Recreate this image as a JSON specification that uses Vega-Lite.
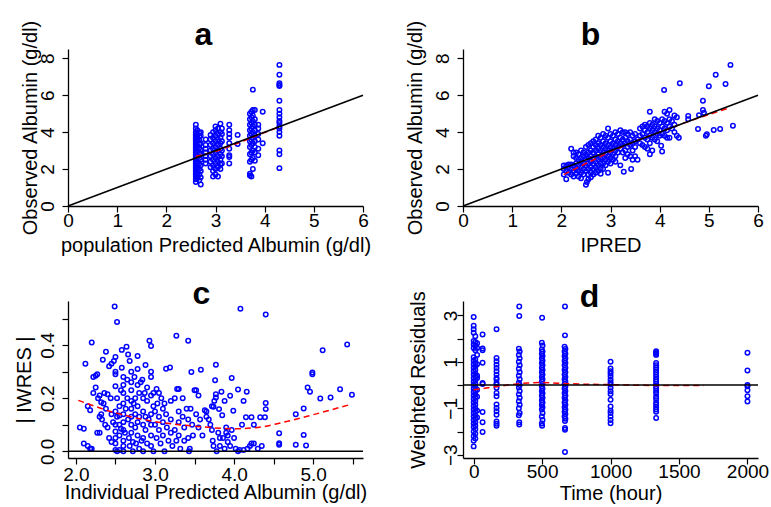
{
"$schema": "https://vega.github.io/schema/vega-lite/v6.json",
"padding": {"left": 14, "top": 18, "right": 5, "bottom": 2},
"background": "white",
"config": {
 "view": {"stroke": null},
 "font": "Liberation Sans",
 "axis": {"grid": false, "domainColor": "#000", "domainWidth": 1.3, "tickColor": "#000", "tickWidth": 1.2, "tickSize": 6, "labelFont": "Liberation Sans", "labelFontSize": 19, "labelColor": "#000", "titleFont": "Liberation Sans", "titleFontSize": 20, "titleFontWeight": "normal", "titleColor": "#000", "labelFlush": false, "labelOverlap": false, "labelBound": false},
 "axisX": {"labelBaseline": "alphabetic", "titleBaseline": "alphabetic", "labelOverlap": false},
 "axisY": {"labelAngle": 270, "labelAlign": "center", "labelBaseline": "alphabetic", "titleBaseline": "alphabetic", "titleAngle": 270, "labelOverlap": false},
 "title": {"font": "Liberation Sans", "fontSize": 32, "fontWeight": "bold", "color": "#000", "baseline": "alphabetic", "frame": "group", "anchor": "middle"}
},
"datasets": {
 "a": [
  {"x":2.6,"y":1.3},{"x":2.6,"y":1.45},{"x":2.6,"y":1.6},{"x":2.6,"y":1.7},{"x":2.6,"y":1.8},{"x":2.6,"y":1.9},{"x":2.6,"y":2.0},{"x":2.6,"y":2.1},{"x":2.6,"y":2.2},{"x":2.6,"y":2.3},{"x":2.6,"y":2.4},{"x":2.6,"y":2.5},{"x":2.6,"y":2.6},{"x":2.6,"y":2.7},{"x":2.6,"y":2.8},{"x":2.6,"y":2.9},{"x":2.6,"y":3.0},{"x":2.6,"y":3.1},{"x":2.6,"y":3.2},{"x":2.6,"y":3.3},{"x":2.6,"y":3.4},{"x":2.6,"y":3.5},{"x":2.6,"y":3.6},{"x":2.6,"y":3.7},{"x":2.6,"y":3.8},{"x":2.6,"y":3.9},{"x":2.6,"y":4.0},{"x":2.6,"y":4.2},{"x":2.6,"y":4.4},
  {"x":2.63,"y":1.5},{"x":2.63,"y":1.75},{"x":2.63,"y":2.05},{"x":2.63,"y":2.35},{"x":2.63,"y":2.65},{"x":2.63,"y":2.95},{"x":2.63,"y":3.25},{"x":2.63,"y":3.55},{"x":2.63,"y":3.85},{"x":2.63,"y":4.1},
  {"x":2.67,"y":1.4},{"x":2.67,"y":1.7},{"x":2.67,"y":2.0},{"x":2.67,"y":2.3},{"x":2.67,"y":2.6},{"x":2.67,"y":2.9},{"x":2.67,"y":3.15},{"x":2.67,"y":3.35},{"x":2.67,"y":3.55},{"x":2.67,"y":3.75},{"x":2.67,"y":3.95},
  {"x":2.7,"y":1.17},{"x":2.7,"y":1.55},{"x":2.7,"y":1.9},{"x":2.7,"y":2.2},{"x":2.7,"y":2.5},{"x":2.7,"y":2.8},{"x":2.7,"y":3.05},{"x":2.7,"y":3.4},{"x":2.7,"y":3.8},{"x":2.7,"y":4.0},
  {"x":2.8,"y":2.3},{"x":2.8,"y":2.5},{"x":2.8,"y":2.7},{"x":2.8,"y":2.9},{"x":2.8,"y":3.1},{"x":2.8,"y":3.3},{"x":2.8,"y":3.6},
  {"x":2.9,"y":2.1},{"x":2.9,"y":2.4},{"x":2.9,"y":2.7},{"x":2.9,"y":3.0},{"x":2.9,"y":3.3},{"x":2.9,"y":3.6},{"x":2.9,"y":3.85},
  {"x":2.95,"y":1.6},{"x":2.95,"y":1.9},{"x":2.95,"y":2.2},{"x":2.95,"y":2.5},{"x":2.95,"y":2.8},{"x":2.95,"y":3.1},{"x":2.95,"y":3.4},{"x":2.95,"y":3.7},{"x":2.95,"y":4.0},
  {"x":3.0,"y":1.7},{"x":3.0,"y":2.0},{"x":3.0,"y":2.3},{"x":3.0,"y":2.6},{"x":3.0,"y":2.9},{"x":3.0,"y":3.2},{"x":3.0,"y":3.5},{"x":3.0,"y":3.8},{"x":3.0,"y":4.1},{"x":3.0,"y":4.3},
  {"x":3.05,"y":1.6},{"x":3.05,"y":2.1},{"x":3.05,"y":2.4},{"x":3.05,"y":2.7},{"x":3.05,"y":3.0},{"x":3.05,"y":3.3},{"x":3.05,"y":3.6},{"x":3.05,"y":3.9},{"x":3.05,"y":4.2},
  {"x":3.1,"y":2.0},{"x":3.1,"y":2.25},{"x":3.1,"y":2.5},{"x":3.1,"y":2.8},{"x":3.1,"y":3.1},{"x":3.1,"y":3.4},{"x":3.1,"y":3.7},{"x":3.1,"y":4.0},{"x":3.1,"y":4.45},
  {"x":3.13,"y":2.3},{"x":3.13,"y":2.7},{"x":3.13,"y":3.0},{"x":3.13,"y":3.5},{"x":3.13,"y":3.9},{"x":3.13,"y":4.2},
  {"x":3.28,"y":2.3},{"x":3.28,"y":2.65},{"x":3.28,"y":2.75},{"x":3.28,"y":3.1},{"x":3.28,"y":3.4},{"x":3.28,"y":3.7},{"x":3.28,"y":3.9},{"x":3.28,"y":4.1},{"x":3.28,"y":4.4},
  {"x":3.45,"y":3.35},{"x":3.45,"y":3.85},
  {"x":3.7,"y":1.65},{"x":3.7,"y":1.75},{"x":3.7,"y":2.4},{"x":3.7,"y":2.8},{"x":3.7,"y":3.2},{"x":3.7,"y":3.5},{"x":3.7,"y":3.8},{"x":3.7,"y":4.1},{"x":3.7,"y":4.4},{"x":3.7,"y":4.7},{"x":3.7,"y":5.0},
  {"x":3.73,"y":1.6},{"x":3.73,"y":2.5},{"x":3.73,"y":2.9},{"x":3.73,"y":3.3},{"x":3.73,"y":3.6},{"x":3.73,"y":3.9},{"x":3.73,"y":4.2},{"x":3.73,"y":4.5},{"x":3.73,"y":4.8},{"x":3.73,"y":5.1},
  {"x":3.76,"y":6.3},{"x":3.76,"y":2.0},{"x":3.76,"y":2.6},{"x":3.76,"y":3.0},{"x":3.76,"y":3.4},{"x":3.76,"y":3.7},{"x":3.76,"y":4.0},{"x":3.76,"y":4.3},{"x":3.76,"y":4.6},{"x":3.76,"y":4.9},{"x":3.76,"y":5.2},
  {"x":3.8,"y":2.45},{"x":3.8,"y":2.9},{"x":3.8,"y":3.2},{"x":3.8,"y":3.5},{"x":3.8,"y":3.8},{"x":3.8,"y":4.1},{"x":3.8,"y":4.4},{"x":3.8,"y":4.7},{"x":3.8,"y":5.2},
  {"x":3.87,"y":2.75},{"x":3.87,"y":3.1},{"x":3.87,"y":3.6},{"x":3.87,"y":3.9},{"x":3.87,"y":4.2},{"x":3.87,"y":4.4},
  {"x":3.96,"y":5.1},{"x":3.96,"y":3.4},
  {"x":4.3,"y":7.64},{"x":4.3,"y":7.11},{"x":4.3,"y":6.65},{"x":4.3,"y":6.55},{"x":4.3,"y":6.5},{"x":4.3,"y":5.7},{"x":4.3,"y":5.2},{"x":4.3,"y":5.0},{"x":4.3,"y":4.8},{"x":4.3,"y":4.6},{"x":4.3,"y":4.5},{"x":4.3,"y":4.3},{"x":4.3,"y":4.2},{"x":4.3,"y":4.0},{"x":4.3,"y":3.8},{"x":4.3,"y":3.0},{"x":4.3,"y":2.8},{"x":4.3,"y":2.05}
 ],
 "la": [{"x":2.6,"y":2.68},{"x":3.0,"y":2.95},{"x":3.5,"y":3.45},{"x":4.0,"y":3.98},{"x":4.3,"y":4.28}],
 "ia": [{"x":0,"y":0},{"x":6,"y":6}],
 "b": [
  {"x":2.05,"y":1.7},{"x":2.05,"y":2.0},{"x":2.05,"y":2.2},
  {"x":2.1,"y":1.45},{"x":2.1,"y":1.9},{"x":2.1,"y":2.2},
  {"x":2.15,"y":2.1},{"x":2.15,"y":2.25},{"x":2.15,"y":1.8},
  {"x":2.2,"y":3.1},{"x":2.2,"y":2.0},{"x":2.2,"y":2.25},{"x":2.2,"y":1.7},
  {"x":2.25,"y":2.9},{"x":2.25,"y":2.7},{"x":2.25,"y":2.2},{"x":2.25,"y":1.9},{"x":2.25,"y":1.6},
  {"x":2.3,"y":2.3},{"x":2.3,"y":2.6},{"x":2.3,"y":2.0},{"x":2.3,"y":1.75},{"x":2.3,"y":2.9},
  {"x":2.35,"y":2.5},{"x":2.35,"y":2.2},{"x":2.35,"y":1.9},{"x":2.35,"y":1.6},{"x":2.35,"y":2.8},
  {"x":2.4,"y":2.6},{"x":2.4,"y":2.4},{"x":2.4,"y":2.1},{"x":2.4,"y":1.8},{"x":2.4,"y":1.5},{"x":2.4,"y":3.0},
  {"x":2.45,"y":2.7},{"x":2.45,"y":2.3},{"x":2.45,"y":2.0},{"x":2.45,"y":1.7},{"x":2.45,"y":2.9},
  {"x":2.5,"y":3.2},{"x":2.5,"y":2.8},{"x":2.5,"y":2.5},{"x":2.5,"y":2.2},{"x":2.5,"y":1.9},{"x":2.5,"y":1.15},{"x":2.52,"y":1.3},
  {"x":2.55,"y":3.3},{"x":2.55,"y":2.9},{"x":2.55,"y":2.6},{"x":2.55,"y":2.3},{"x":2.55,"y":2.0},{"x":2.55,"y":1.7},{"x":2.55,"y":1.45},
  {"x":2.6,"y":3.4},{"x":2.6,"y":3.0},{"x":2.6,"y":2.7},{"x":2.6,"y":2.4},{"x":2.6,"y":2.1},{"x":2.6,"y":1.8},{"x":2.6,"y":1.55},
  {"x":2.65,"y":3.2},{"x":2.65,"y":2.9},{"x":2.65,"y":2.6},{"x":2.65,"y":2.3},{"x":2.65,"y":2.0},{"x":2.65,"y":1.7},{"x":2.65,"y":3.5},
  {"x":2.7,"y":3.6},{"x":2.7,"y":3.3},{"x":2.7,"y":3.0},{"x":2.7,"y":2.7},{"x":2.7,"y":2.4},{"x":2.7,"y":2.1},{"x":2.7,"y":1.8},
  {"x":2.75,"y":3.8},{"x":2.75,"y":3.4},{"x":2.75,"y":3.1},{"x":2.75,"y":2.8},{"x":2.75,"y":2.5},{"x":2.75,"y":2.2},{"x":2.75,"y":1.9},
  {"x":2.8,"y":3.7},{"x":2.8,"y":3.3},{"x":2.8,"y":3.0},{"x":2.8,"y":2.6},{"x":2.8,"y":2.3},{"x":2.8,"y":2.0},{"x":2.8,"y":1.75},
  {"x":2.85,"y":3.9},{"x":2.85,"y":3.5},{"x":2.85,"y":3.2},{"x":2.85,"y":2.9},{"x":2.85,"y":2.6},{"x":2.85,"y":2.3},{"x":2.85,"y":2.0},
  {"x":2.9,"y":3.8},{"x":2.9,"y":3.4},{"x":2.9,"y":3.1},{"x":2.9,"y":2.8},{"x":2.9,"y":2.5},{"x":2.9,"y":2.2},
  {"x":2.95,"y":4.2},{"x":2.95,"y":3.7},{"x":2.95,"y":3.3},{"x":2.95,"y":3.0},{"x":2.95,"y":2.7},{"x":2.95,"y":2.4},{"x":2.95,"y":1.8},
  {"x":3.0,"y":3.9},{"x":3.0,"y":3.5},{"x":3.0,"y":3.2},{"x":3.0,"y":2.9},{"x":3.0,"y":2.6},{"x":3.0,"y":2.3},
  {"x":3.05,"y":3.8},{"x":3.05,"y":3.4},{"x":3.05,"y":3.1},{"x":3.05,"y":2.8},{"x":3.05,"y":2.5},
  {"x":3.1,"y":4.0},{"x":3.1,"y":3.6},{"x":3.1,"y":3.3},{"x":3.1,"y":3.0},{"x":3.1,"y":2.7},{"x":3.1,"y":2.4},
  {"x":3.15,"y":3.9},{"x":3.15,"y":3.5},{"x":3.15,"y":3.2},{"x":3.15,"y":2.9},
  {"x":3.2,"y":4.1},{"x":3.2,"y":3.7},{"x":3.2,"y":3.4},{"x":3.2,"y":3.1},{"x":3.2,"y":2.2},
  {"x":3.25,"y":4.0},{"x":3.25,"y":3.6},{"x":3.25,"y":3.3},{"x":3.25,"y":2.9},{"x":3.27,"y":1.85},
  {"x":3.3,"y":4.0},{"x":3.3,"y":3.7},{"x":3.3,"y":3.4},{"x":3.3,"y":3.0},{"x":3.3,"y":2.6},
  {"x":3.35,"y":3.9},{"x":3.35,"y":3.5},{"x":3.35,"y":3.2},{"x":3.35,"y":2.8},
  {"x":3.4,"y":4.0},{"x":3.4,"y":3.6},{"x":3.4,"y":3.3},{"x":3.4,"y":2.7},{"x":3.42,"y":2.0},
  {"x":3.45,"y":3.8},{"x":3.45,"y":3.4},{"x":3.45,"y":3.0},{"x":3.45,"y":2.5},
  {"x":3.5,"y":3.9},{"x":3.5,"y":3.5},{"x":3.5,"y":3.2},{"x":3.5,"y":2.7},
  {"x":3.55,"y":3.6},{"x":3.55,"y":2.5},
  {"x":3.6,"y":4.2},{"x":3.6,"y":3.8},{"x":3.6,"y":3.4},
  {"x":3.65,"y":4.3},{"x":3.65,"y":3.9},{"x":3.65,"y":3.3},
  {"x":3.7,"y":4.4},{"x":3.7,"y":4.1},{"x":3.7,"y":3.7},{"x":3.7,"y":3.2},
  {"x":3.75,"y":4.3},{"x":3.75,"y":4.0},{"x":3.75,"y":3.6},{"x":3.75,"y":3.1},
  {"x":3.8,"y":5.1},{"x":3.8,"y":4.5},{"x":3.8,"y":4.2},{"x":3.8,"y":3.8},{"x":3.8,"y":3.4},{"x":3.8,"y":2.8},
  {"x":3.85,"y":4.4},{"x":3.85,"y":4.1},{"x":3.85,"y":3.7},{"x":3.85,"y":3.0},
  {"x":3.9,"y":4.7},{"x":3.9,"y":4.3},{"x":3.9,"y":4.0},{"x":3.9,"y":3.6},
  {"x":3.95,"y":4.6},{"x":3.95,"y":4.2},{"x":3.95,"y":3.9},{"x":3.95,"y":3.5},
  {"x":4.0,"y":4.5},{"x":4.0,"y":4.1},{"x":4.0,"y":3.8},
  {"x":4.05,"y":4.7},{"x":4.05,"y":4.3},{"x":4.05,"y":3.9},{"x":4.03,"y":3.26},{"x":4.05,"y":2.95},
  {"x":4.1,"y":5.1},{"x":4.1,"y":4.6},{"x":4.1,"y":4.2},{"x":4.1,"y":3.8},{"x":4.09,"y":6.28},
  {"x":4.15,"y":5.0},{"x":4.15,"y":4.5},{"x":4.15,"y":4.1},{"x":4.15,"y":3.7},
  {"x":4.2,"y":5.2},{"x":4.2,"y":4.7},{"x":4.2,"y":4.3},{"x":4.2,"y":3.7},
  {"x":4.25,"y":4.6},{"x":4.25,"y":4.2},
  {"x":4.3,"y":4.9},{"x":4.3,"y":4.4},{"x":4.3,"y":4.0},
  {"x":4.35,"y":4.8},{"x":4.35,"y":3.8},{"x":4.39,"y":3.7},{"x":4.41,"y":6.64},
  {"x":4.58,"y":4.88},{"x":4.58,"y":4.7},{"x":4.78,"y":4.17},{"x":4.8,"y":4.92},{"x":4.88,"y":5.7},{"x":4.88,"y":5.2},{"x":4.9,"y":5.05},
  {"x":4.94,"y":3.8},{"x":4.96,"y":3.88},{"x":5.0,"y":6.48},{"x":5.1,"y":4.11},{"x":5.14,"y":7.11},{"x":5.23,"y":4.17},{"x":5.34,"y":6.6},{"x":5.44,"y":7.64},{"x":5.49,"y":4.35}
 ],
 "lb": [{"x":2.05,"y":1.7},{"x":2.5,"y":2.3},{"x":3.0,"y":2.95},{"x":3.5,"y":3.5},{"x":4.0,"y":4.0},{"x":4.5,"y":4.5},{"x":5.0,"y":4.95},{"x":5.4,"y":5.3}],
 "c": [
  {"x":2.05,"y":0.09},{"x":2.1,"y":0.085},{"x":2.12,"y":0.33},{"x":2.1,"y":0.03},{"x":2.15,"y":0.02},{"x":2.18,"y":0.01},{"x":2.15,"y":0.17},{"x":2.18,"y":0.155},{"x":2.2,"y":0.41},{"x":2.22,"y":0.28},{"x":2.22,"y":0.22},{"x":2.2,"y":0.01},
  {"x":2.25,"y":0.285},{"x":2.27,"y":0.29},{"x":2.28,"y":0.2},{"x":2.3,"y":0.21},{"x":2.25,"y":0.24},{"x":2.3,"y":0.13},{"x":2.32,"y":0.14},{"x":2.27,"y":0.07},{"x":2.3,"y":0.07},{"x":2.32,"y":0.185},{"x":2.35,"y":0.18},{"x":2.34,"y":0.345},{"x":2.38,"y":0.375},{"x":2.36,"y":0.22},{"x":2.4,"y":0.215},{"x":2.4,"y":0.09},{"x":2.42,"y":0.05},{"x":2.42,"y":0.32},{"x":2.45,"y":0.33},{"x":2.44,"y":0.2},{"x":2.38,"y":0.16},{"x":2.45,"y":0.035},{"x":2.33,"y":0.12},{"x":2.37,"y":0.1},
  {"x":2.49,"y":0.545},{"x":2.52,"y":0.487},{"x":2.5,"y":0.355},{"x":2.48,"y":0.34},{"x":2.5,"y":0.3},{"x":2.5,"y":0.29},{"x":2.5,"y":0.245},{"x":2.52,"y":0.2},{"x":2.5,"y":0.15},{"x":2.52,"y":0.13},{"x":2.5,"y":0.1},{"x":2.5,"y":0.075},{"x":2.5,"y":0.05},{"x":2.5,"y":0.03},{"x":2.5,"y":0.005},{"x":2.52,"y":0.0},{"x":2.55,"y":0.005},{"x":2.55,"y":0.06},{"x":2.55,"y":0.1},{"x":2.55,"y":0.135},{"x":2.55,"y":0.17},{"x":2.57,"y":0.23},{"x":2.58,"y":0.382},{"x":2.58,"y":0.315},{"x":2.6,"y":0.28},{"x":2.6,"y":0.25},{"x":2.6,"y":0.22},{"x":2.6,"y":0.18},{"x":2.6,"y":0.14},{"x":2.6,"y":0.11},{"x":2.6,"y":0.08},{"x":2.6,"y":0.04},{"x":2.6,"y":0.02},{"x":2.6,"y":0.0},{"x":2.47,"y":0.11},{"x":2.45,"y":0.14},{"x":2.57,"y":0.085},
  {"x":2.64,"y":0.394},{"x":2.66,"y":0.365},{"x":2.68,"y":0.34},{"x":2.65,"y":0.27},{"x":2.65,"y":0.2},{"x":2.66,"y":0.12},{"x":2.67,"y":0.05},{"x":2.68,"y":0.02},{"x":2.7,"y":0.3},{"x":2.7,"y":0.26},{"x":2.7,"y":0.23},{"x":2.7,"y":0.19},{"x":2.7,"y":0.16},{"x":2.7,"y":0.13},{"x":2.7,"y":0.1},{"x":2.7,"y":0.07},{"x":2.72,"y":0.035},{"x":2.72,"y":0.0},{"x":2.74,"y":0.28},{"x":2.75,"y":0.2},{"x":2.75,"y":0.14},{"x":2.75,"y":0.09},{"x":2.76,"y":0.03},{"x":2.78,"y":0.359},{"x":2.78,"y":0.31},{"x":2.78,"y":0.25},{"x":2.78,"y":0.17},{"x":2.78,"y":0.11},{"x":2.78,"y":0.06},{"x":2.8,"y":0.01},{"x":2.8,"y":0.22},{"x":2.8,"y":0.13},{"x":2.63,"y":0.16},{"x":2.62,"y":0.07},{"x":2.73,"y":0.18},
  {"x":2.82,"y":0.26},{"x":2.84,"y":0.27},{"x":2.85,"y":0.2},{"x":2.85,"y":0.15},{"x":2.85,"y":0.1},{"x":2.85,"y":0.05},{"x":2.85,"y":0.0},{"x":2.88,"y":0.325},{"x":2.88,"y":0.13},{"x":2.88,"y":0.08},{"x":2.9,"y":0.24},{"x":2.9,"y":0.19},{"x":2.9,"y":0.03},{"x":2.93,"y":0.416},{"x":2.95,"y":0.397},{"x":2.95,"y":0.3},{"x":2.95,"y":0.28},{"x":2.95,"y":0.21},{"x":2.95,"y":0.14},{"x":2.95,"y":0.1},{"x":2.95,"y":0.06},{"x":2.95,"y":0.02},{"x":2.98,"y":0.22},{"x":2.98,"y":0.17},{"x":2.98,"y":0.0},{"x":2.92,"y":0.12},{"x":2.83,"y":0.04},{"x":2.87,"y":0.22},
  {"x":3.0,"y":0.15},{"x":3.0,"y":0.1},{"x":3.02,"y":0.05},{"x":3.02,"y":0.235},{"x":3.05,"y":0.22},{"x":3.05,"y":0.13},{"x":3.05,"y":0.08},{"x":3.07,"y":0.03},{"x":3.08,"y":0.2},{"x":3.1,"y":0.16},{"x":3.1,"y":0.11},{"x":3.1,"y":0.06},{"x":3.12,"y":0.0},{"x":3.14,"y":0.311},{"x":3.14,"y":0.14},{"x":3.15,"y":0.09},{"x":3.17,"y":0.04},{"x":3.19,"y":0.316},{"x":3.2,"y":0.19},{"x":3.2,"y":0.12},{"x":3.2,"y":0.07},{"x":3.22,"y":0.02},{"x":3.12,"y":0.18},{"x":3.03,"y":0.18},
  {"x":3.27,"y":0.435},{"x":3.25,"y":0.2},{"x":3.28,"y":0.235},{"x":3.3,"y":0.235},{"x":3.3,"y":0.15},{"x":3.3,"y":0.11},{"x":3.3,"y":0.06},{"x":3.32,"y":0.01},{"x":3.35,"y":0.2},{"x":3.35,"y":0.13},{"x":3.37,"y":0.09},{"x":3.37,"y":0.04},{"x":3.4,"y":0.16},{"x":3.42,"y":0.416},{"x":3.42,"y":0.12},{"x":3.42,"y":0.05},{"x":3.43,"y":0.0},{"x":3.44,"y":0.01},{"x":3.46,"y":0.299},{"x":3.45,"y":0.16},{"x":3.47,"y":0.1},{"x":3.48,"y":0.06},{"x":3.25,"y":0.08},{"x":3.27,"y":0.04},
  {"x":3.5,"y":0.23},{"x":3.52,"y":0.23},{"x":3.52,"y":0.14},{"x":3.55,"y":0.21},{"x":3.55,"y":0.09},{"x":3.58,"y":0.307},{"x":3.57,"y":0.12},{"x":3.6,"y":0.06},{"x":3.63,"y":0.155},{"x":3.65,"y":0.15},{"x":3.65,"y":0.13},{"x":3.68,"y":0.12},{"x":3.7,"y":0.1},{"x":3.72,"y":0.08},{"x":3.75,"y":0.19},{"x":3.72,"y":0.17},{"x":3.73,"y":0.04},{"x":3.74,"y":0.02},{"x":3.77,"y":0.326},{"x":3.76,"y":0.268},{"x":3.77,"y":0.215},{"x":3.77,"y":0.203},{"x":3.74,"y":0.168},{"x":3.81,"y":0.159},{"x":3.85,"y":0.136},{"x":3.8,"y":0.07},{"x":3.82,"y":0.05},{"x":3.82,"y":0.02},{"x":3.78,"y":0.0},
  {"x":3.84,"y":0.224},{"x":3.88,"y":0.19},{"x":3.95,"y":0.209},{"x":3.97,"y":0.276},{"x":3.99,"y":0.153},{"x":3.9,"y":0.09},{"x":3.9,"y":0.07},{"x":3.92,"y":0.06},{"x":3.92,"y":0.035},{"x":3.95,"y":0.02},{"x":3.88,"y":0.01},{"x":3.97,"y":0.08},{"x":4.0,"y":0.05},{"x":4.02,"y":0.01},{"x":4.05,"y":0.233},{"x":4.05,"y":0.0},{"x":4.07,"y":0.005},{"x":4.08,"y":0.537},{"x":4.1,"y":0.1},{"x":4.12,"y":0.19},{"x":4.12,"y":0.005},{"x":3.86,"y":0.05},
  {"x":4.15,"y":0.128},{"x":4.16,"y":0.224},{"x":4.17,"y":0.01},{"x":4.2,"y":0.02},{"x":4.22,"y":0.128},{"x":4.22,"y":0.03},{"x":4.25,"y":0.1},{"x":4.25,"y":0.03},{"x":4.3,"y":0.01},{"x":4.33,"y":0.128},{"x":4.35,"y":0.02},{"x":4.39,"y":0.128},{"x":4.4,"y":0.159},{"x":4.4,"y":0.182},{"x":4.4,"y":0.515},
  {"x":4.57,"y":0.068},{"x":4.57,"y":0.031},{"x":4.57,"y":0.025},{"x":4.78,"y":0.14},{"x":4.78,"y":0.025},{"x":4.88,"y":0.161},{"x":4.88,"y":0.062},{"x":4.91,"y":0.022},{"x":4.93,"y":0.24},{"x":4.96,"y":0.224},{"x":4.99,"y":0.297},{"x":4.99,"y":0.29},{"x":5.09,"y":0.199},{"x":5.12,"y":0.381},{"x":5.22,"y":0.203},{"x":5.34,"y":0.234},{"x":5.43,"y":0.402},{"x":5.49,"y":0.213}
 ],
 "lc": [{"x":2.03,"y":0.192},{"x":2.5,"y":0.145},{"x":3.0,"y":0.112},{"x":3.5,"y":0.095},{"x":4.0,"y":0.085},{"x":4.3,"y":0.09},{"x":4.6,"y":0.108},{"x":5.0,"y":0.138},{"x":5.49,"y":0.178}],
 "hc": [{"x":1.9,"y":0},{"x":5.63,"y":0}],
 "d": [
  {"x":0,"y":2.93},{"x":0,"y":2.55},{"x":0,"y":2.4},{"x":0,"y":2.25},{"x":0,"y":1.9},{"x":0,"y":1.75},{"x":0,"y":1.6},{"x":0,"y":1.2},{"x":0,"y":1.05},{"x":0,"y":0.9},{"x":0,"y":0.75},{"x":0,"y":0.6},{"x":0,"y":0.45},{"x":0,"y":0.3},{"x":0,"y":0.15},{"x":0,"y":0.0},{"x":0,"y":-0.15},{"x":0,"y":-0.3},{"x":0,"y":-0.45},{"x":0,"y":-0.6},{"x":0,"y":-0.75},{"x":0,"y":-0.9},{"x":0,"y":-1.05},{"x":0,"y":-1.2},{"x":0,"y":-1.35},{"x":0,"y":-1.5},{"x":0,"y":-1.65},{"x":0,"y":-1.8},{"x":0,"y":-2.0},{"x":0,"y":-2.2},{"x":0,"y":-2.4},{"x":0,"y":-2.64},
  {"x":12,"y":2.1},{"x":12,"y":1.85},{"x":12,"y":1.7},{"x":12,"y":1.5},{"x":12,"y":1.1},{"x":12,"y":0.95},{"x":12,"y":0.8},{"x":12,"y":0.65},{"x":12,"y":0.5},{"x":12,"y":0.35},{"x":12,"y":0.2},{"x":12,"y":0.05},{"x":12,"y":-0.1},{"x":12,"y":-0.25},{"x":12,"y":-0.4},{"x":12,"y":-0.55},{"x":12,"y":-0.7},{"x":12,"y":-0.85},{"x":12,"y":-1.0},{"x":12,"y":-1.15},{"x":12,"y":-1.3},{"x":12,"y":-1.45},{"x":12,"y":-1.6},{"x":12,"y":-1.75},{"x":12,"y":-1.9},{"x":12,"y":-2.1},{"x":12,"y":-2.3},
  {"x":25,"y":1.8},{"x":25,"y":1.6},{"x":25,"y":1.3},{"x":25,"y":0.9},{"x":25,"y":0.4},{"x":25,"y":0.3},{"x":25,"y":-0.2},{"x":25,"y":-0.5},{"x":25,"y":-1.1},{"x":25,"y":-1.4},
  {"x":65,"y":2.18},{"x":65,"y":1.57},{"x":65,"y":1.5},{"x":65,"y":0.96},{"x":65,"y":0.09},{"x":65,"y":0.05},{"x":65,"y":-1.16},{"x":65,"y":-1.6},{"x":65,"y":-2.02},
  {"x":167,"y":2.4},{"x":167,"y":1.17},{"x":167,"y":1.03},{"x":167,"y":0.88},{"x":167,"y":0.74},{"x":167,"y":0.6},{"x":167,"y":0.45},{"x":167,"y":0.3},{"x":167,"y":0.24},{"x":167,"y":0.1},{"x":167,"y":0.02},{"x":167,"y":-0.12},{"x":167,"y":-0.34},{"x":167,"y":-0.48},{"x":167,"y":-0.84},{"x":167,"y":-0.99},{"x":167,"y":-1.13},{"x":167,"y":-1.28},{"x":167,"y":-1.57},{"x":167,"y":-1.67},{"x":167,"y":-1.75},
  {"x":333,"y":3.38},{"x":333,"y":2.97},{"x":330,"y":1.56},{"x":336,"y":1.45},{"x":330,"y":1.3},{"x":336,"y":1.15},{"x":330,"y":1.0},{"x":336,"y":0.85},{"x":330,"y":0.7},{"x":336,"y":0.55},{"x":330,"y":0.4},{"x":336,"y":0.25},{"x":330,"y":0.1},{"x":336,"y":0.0},{"x":330,"y":-0.1},{"x":336,"y":-0.25},{"x":330,"y":-0.4},{"x":336,"y":-0.55},{"x":330,"y":-0.7},{"x":336,"y":-0.85},{"x":330,"y":-1.0},{"x":336,"y":-1.2},{"x":330,"y":-1.3},{"x":333,"y":-1.6},{"x":333,"y":-1.7},
  {"x":500,"y":2.9},{"x":498,"y":1.82},{"x":503,"y":1.7},{"x":498,"y":1.53},{"x":503,"y":1.45},{"x":498,"y":1.35},{"x":503,"y":1.25},{"x":498,"y":1.15},{"x":503,"y":1.05},{"x":498,"y":0.95},{"x":503,"y":0.85},{"x":498,"y":0.75},{"x":503,"y":0.65},{"x":498,"y":0.55},{"x":503,"y":0.45},{"x":498,"y":0.35},{"x":503,"y":0.25},{"x":498,"y":0.15},{"x":503,"y":0.05},{"x":498,"y":-0.05},{"x":503,"y":-0.15},{"x":498,"y":-0.25},{"x":503,"y":-0.35},{"x":498,"y":-0.45},{"x":503,"y":-0.55},{"x":498,"y":-0.65},{"x":503,"y":-0.75},{"x":498,"y":-0.85},{"x":503,"y":-0.95},{"x":498,"y":-1.05},{"x":503,"y":-1.2},{"x":498,"y":-1.35},{"x":503,"y":-1.5},{"x":498,"y":-1.65},{"x":500,"y":-1.75},
  {"x":667,"y":3.38},{"x":667,"y":2.14},{"x":664,"y":1.65},{"x":670,"y":1.55},{"x":664,"y":1.45},{"x":670,"y":1.35},{"x":664,"y":1.25},{"x":670,"y":1.15},{"x":664,"y":1.05},{"x":670,"y":0.95},{"x":664,"y":0.85},{"x":670,"y":0.75},{"x":664,"y":0.65},{"x":670,"y":0.55},{"x":664,"y":0.45},{"x":670,"y":0.35},{"x":664,"y":0.25},{"x":670,"y":0.15},{"x":664,"y":0.05},{"x":670,"y":-0.05},{"x":664,"y":-0.15},{"x":670,"y":-0.25},{"x":664,"y":-0.35},{"x":670,"y":-0.45},{"x":664,"y":-0.55},{"x":670,"y":-0.65},{"x":664,"y":-0.75},{"x":670,"y":-0.85},{"x":664,"y":-0.95},{"x":670,"y":-1.05},{"x":664,"y":-1.15},{"x":670,"y":-1.25},{"x":664,"y":-1.35},{"x":670,"y":-1.45},{"x":667,"y":-1.55},{"x":667,"y":-1.85},{"x":667,"y":-1.92},{"x":667,"y":-2.88},
  {"x":1000,"y":1.0},{"x":1000,"y":0.71},{"x":1000,"y":0.6},{"x":1000,"y":0.5},{"x":1000,"y":0.38},{"x":1000,"y":0.24},{"x":1000,"y":0.12},{"x":1000,"y":0.02},{"x":1000,"y":-0.12},{"x":1000,"y":-0.27},{"x":1000,"y":-0.38},{"x":1000,"y":-0.63},{"x":1000,"y":-0.92},{"x":1000,"y":-1.1},{"x":1000,"y":-1.2},{"x":1000,"y":-1.35},{"x":1000,"y":-1.5},{"x":1000,"y":-1.64},
  {"x":1333,"y":1.46},{"x":1333,"y":1.4},{"x":1333,"y":1.35},{"x":1333,"y":1.3},{"x":1333,"y":0.95},{"x":1333,"y":0.85},{"x":1333,"y":0.75},{"x":1333,"y":0.65},{"x":1333,"y":0.55},{"x":1333,"y":0.45},{"x":1333,"y":0.35},{"x":1333,"y":0.25},{"x":1333,"y":0.15},{"x":1333,"y":0.05},{"x":1333,"y":-0.05},{"x":1333,"y":-0.15},{"x":1333,"y":-0.25},{"x":1333,"y":-0.35},{"x":1333,"y":-0.5},{"x":1333,"y":-0.6},{"x":1333,"y":-0.75},{"x":1333,"y":-0.85},{"x":1333,"y":-0.95},{"x":1333,"y":-1.05},{"x":1333,"y":-1.15},{"x":1333,"y":-1.42},
  {"x":2000,"y":1.39},{"x":2000,"y":0.63},{"x":2000,"y":0.0},{"x":2000,"y":-0.05},{"x":2000,"y":-0.22},{"x":2000,"y":-0.48},{"x":2000,"y":-0.71}
 ],
 "ld": [{"x":0,"y":-0.2},{"x":60,"y":-0.16},{"x":120,"y":-0.1},{"x":200,"y":-0.04},{"x":300,"y":0.04},{"x":400,"y":0.09},{"x":480,"y":0.11},{"x":560,"y":0.1},{"x":650,"y":0.07},{"x":800,"y":0.04},{"x":1000,"y":0.02},{"x":1200,"y":-0.01},{"x":1450,"y":-0.02},{"x":1680,"y":-0.02}],
 "hd": [{"x":-78,"y":0},{"x":2077,"y":0}]
},
"columns": 2,
"bounds": "flush",
"spacing": {"row": 95, "column": 100},
"concat": [
 {"width": 295, "height": 157,
  "title": {"text": "a", "dx": -12, "offset": 5, "dy": 37},
  "encoding": {
   "x": {"field": "x", "type": "quantitative", "scale": {"domain": [0, 6], "nice": false, "zero": false}, "axis": {"title": "population Predicted Albumin (g/dl)", "values": [0,1,2,3,4,5,6], "labelOverlap": false, "labelPadding": 14.3, "titleY": 45.5}},
   "y": {"field": "y", "type": "quantitative", "scale": {"domain": [0, 8.5], "nice": false, "zero": false}, "axis": {"title": "Observed Albumin (g/dl)", "values": [0,2,4,6,8], "labelExpr": "format(datum.value, 'd')", "labelOverlap": false, "labelPadding": 8.7, "titleX": -31.7}}},
  "layer": [
   {"data": {"name": "a"}, "mark": {"type": "point", "shape": "circle", "filled": false, "color": "#0000ff", "size": 20, "strokeWidth": 1.5, "opacity": 1}},
   {"data": {"name": "la"}, "mark": {"type": "line", "color": "#ff0000", "strokeDash": [6, 4], "strokeWidth": 1.5}},
   {"data": {"name": "ia"}, "mark": {"type": "line", "color": "#000", "strokeWidth": 1.5}}
  ]},
 {"width": 295, "height": 157,
  "title": {"text": "b", "dx": -20, "offset": 5, "dy": 37},
  "encoding": {
   "x": {"field": "x", "type": "quantitative", "scale": {"domain": [0, 6], "nice": false, "zero": false}, "axis": {"title": "IPRED", "values": [0,1,2,3,4,5,6], "labelOverlap": false, "labelPadding": 14.3, "titleY": 45.5}},
   "y": {"field": "y", "type": "quantitative", "scale": {"domain": [0, 8.5], "nice": false, "zero": false}, "axis": {"title": "Observed Albumin (g/dl)", "values": [0,2,4,6,8], "labelExpr": "format(datum.value, 'd')", "labelOverlap": false, "labelPadding": 9, "titleX": -42}}},
  "layer": [
   {"data": {"name": "b"}, "mark": {"type": "point", "shape": "circle", "filled": false, "color": "#0000ff", "size": 20, "strokeWidth": 1.5, "opacity": 1}},
   {"data": {"name": "lb"}, "mark": {"type": "line", "color": "#ff0000", "strokeDash": [6, 4], "strokeWidth": 1.5}},
   {"data": {"name": "ia"}, "mark": {"type": "line", "color": "#000", "strokeWidth": 1.5}}
  ]},
 {"width": 295, "height": 157,
  "title": {"text": "c", "dx": -14, "offset": -2.3, "dy": 8},
  "encoding": {
   "x": {"field": "x", "type": "quantitative", "scale": {"domain": [1.9, 5.63], "nice": false, "zero": false}, "axis": {"title": "Individual Predicted Albumin (g/dl)", "values": [2,2.5,3,3.5,4,4.5,5,5.5], "labelOverlap": false, "labelExpr": "datum.value % 1 == 0 ? format(datum.value, '.1f') : ''", "labelPadding": 16.7, "titleY": 40.3}},
   "y": {"field": "y", "type": "quantitative", "scale": {"domain": [-0.025, 0.566], "nice": false, "zero": false}, "axis": {"title": "| IWRES |", "values": [0,0.1,0.2,0.3,0.4,0.5], "labelOverlap": false, "labelExpr": "round(datum.value*10) % 2 == 0 ? format(datum.value, '.1f') : ''", "labelPadding": 9, "titleX": -37.8}}},
  "layer": [
   {"data": {"name": "c"}, "mark": {"type": "point", "shape": "circle", "filled": false, "color": "#0000ff", "size": 20, "strokeWidth": 1.5, "opacity": 1}},
   {"data": {"name": "lc"}, "mark": {"type": "line", "color": "#ff0000", "strokeDash": [6, 4], "strokeWidth": 1.5, "interpolate": "monotone"}},
   {"data": {"name": "hc"}, "mark": {"type": "line", "color": "#000", "strokeWidth": 1.5}}
  ]},
 {"width": 295, "height": 157,
  "title": {"text": "d", "dx": -21, "offset": -2.3, "dy": 21},
  "encoding": {
   "x": {"field": "x", "type": "quantitative", "scale": {"domain": [-78, 2077], "nice": false, "zero": false}, "axis": {"title": "Time (hour)", "values": [0,500,1000,1500,2000], "format": "d", "labelOverlap": false, "labelPadding": 13.7, "titleY": 41}},
   "y": {"field": "y", "type": "quantitative", "scale": {"domain": [-3.14, 3.62], "nice": false, "zero": false}, "axis": {"title": "Weighted Residuals", "values": [-3,-2,-1,0,1,2,3], "labelOverlap": false, "labelExpr": "abs(datum.value) % 2 == 1 ? format(datum.value, 'd') : ''", "labelPadding": 0.7, "titleX": -38.3}}},
  "layer": [
   {"data": {"name": "d"}, "mark": {"type": "point", "shape": "circle", "filled": false, "color": "#0000ff", "size": 20, "strokeWidth": 1.5, "opacity": 1}},
   {"data": {"name": "ld"}, "mark": {"type": "line", "color": "#ff0000", "strokeDash": [6, 4], "strokeWidth": 1.5, "interpolate": "monotone"}},
   {"data": {"name": "hd"}, "mark": {"type": "line", "color": "#000", "strokeWidth": 1.5}}
  ]}
]
}
